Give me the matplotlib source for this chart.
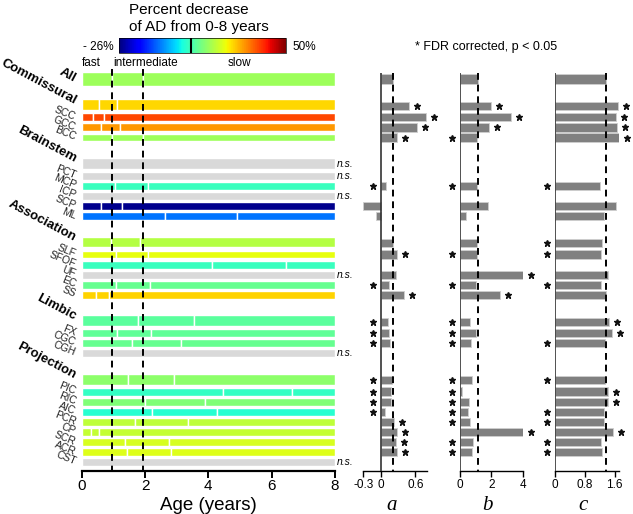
import matplotlib
matplotlib.use('Agg')
import matplotlib.pyplot as plt
from matplotlib import transforms, colors as mcolors, colorbar as mcolorbar

plt.rcParams['font.family'] = ['Liberation Sans', 'DejaVu Sans']
plt.rcParams['axes.unicode_minus'] = False

# ---------------- data ----------------
row_labels = ['All', 'Commissural', 'SCC', 'GCC', 'BCC',
              'Brainstem', 'PCT', 'MCP', 'ICP', 'SCP', 'ML',
              'Association', 'SLF', 'SFOF', 'UF', 'EC', 'SS',
              'Limbic', 'FX', 'CGC', 'CGH',
              'Projection', 'PIC', 'RIC', 'AIC', 'PCR', 'CP', 'SCR', 'ACR', 'CST']
is_group = [True, True, False, False, False,
            True, False, False, False, False, False,
            True, False, False, False, False, False,
            True, False, False, False,
            True, False, False, False, False, False, False, False, False]
# percent decrease of AD from 0-8 years (None = n.s., drawn gray)
pct_decrease = [15, 25.7, 37.4, 30.8, 15,
                None, None, 5.9, None, -25, -7.8,
                17.3, 21.9, 6.0, None, 10.1, 26,
                8.9, 9.5, 10, None,
                13.5, 5.2, 12.4, 4.0, 18, 18.8, 20.4, 21, None]
# phase breakpoints (years): fast | intermediate | slow
break_1 = [0.95, 0.56, 0.35, 0.60, 0.97,
           None, None, 1.05, None, 0.61, 2.63,
           0.92, 1.07, 4.10, None, 1.08, 0.44,
           1.79, 1.10, 1.59, None,
           1.45, 4.45, 2.00, 2.23, 1.68, 0.28, 1.37, 1.42, None]
break_2 = [1.95, 1.10, 0.72, 1.21, 1.93,
           None, None, 2.08, None, 1.26, 4.89,
           1.84, 2.08, 6.44, None, 2.16, 0.86,
           3.56, 2.20, 3.13, None,
           2.92, 6.65, 3.89, 4.28, 3.35, 0.56, 2.76, 2.82, None]
param_a = [0.22, 0.49, 0.79, 0.63, 0.29,
           None, None, 0.09, None, -0.30, -0.08,
           0.22, 0.28, None, 0.26, 0.15, 0.40,
           0.13, 0.15, 0.16, None,
           0.20, 0.17, 0.18, 0.08, 0.23, 0.29, 0.26, 0.29, None]
param_b = [1.13, 1.98, 3.23, 1.87, 1.06,
           None, None, 1.06, None, 1.81, 0.38,
           1.10, 1.06, None, 4.04, 1.02, 2.57,
           0.62, 1.00, 0.70, None,
           0.77, 0.13, 0.55, 0.51, 0.66, 4.04, 0.81, 0.79, None]
param_c = [1.36, 1.69, 1.65, 1.67, 1.71,
           None, None, 1.20, None, 1.63, 1.31,
           1.26, 1.24, None, 1.41, 1.23, 1.38,
           1.45, 1.52, 1.34, None,
           1.34, 1.41, 1.41, 1.31, 1.31, 1.56, 1.23, 1.26, None]
sig_a = [False, True, True, True, True,
         False, False, True, False, False, False,
         False, True, False, False, True, True,
         True, True, True, False,
         True, True, True, True, True, True, True, True, False]
sig_b = [False, True, True, True, True,
         False, False, True, False, False, False,
         False, True, False, True, True, True,
         True, True, True, False,
         True, True, True, True, True, True, True, True, False]
sig_c = [False, True, True, True, True,
         False, False, True, False, False, False,
         True, True, False, False, True, False,
         True, True, True, False,
         True, True, True, True, True, True, True, True, False]

age_max = 8
age_ticks = [0, 2, 4, 6, 8]
cbar_min, cbar_max = -26, 50
cbar_mark = 6.5
phase_labels = ['fast', 'intermediate', 'slow']
a_lim, a_ticks, a_ticklabels = (-0.3, 0.8), [-0.3, 0, 0.6], ['-0.3', '0', '0.6']
b_lim, b_ticks, b_ticklabels = (0, 4.05), [0, 2, 4], ['0', '2', '4']
c_lim, c_ticks, c_ticklabels = (0, 1.72), [0, 0.8, 1.6], ['0', '0.8', '1.6']

# ---------------- layout ----------------
W, H = 633, 514
fig = plt.figure(figsize=(W / 100, H / 100), dpi=100)


def px_axes(x0, x1, y0, y1):
    return fig.add_axes([x0 / W, 1 - y1 / H, (x1 - x0) / W, (y1 - y0) / H])


ypos = []
y = 0.0
for i, g in enumerate(is_group):
    if i == 0:
        y = 0.0
    elif g:
        y += 2.67
    elif is_group[i - 1]:
        y += 1.12
    else:
        y += 1.0
    ypos.append(y)

ylim = (38.81, -1.39)
cmap = plt.get_cmap('jet')
norm = mcolors.Normalize(cbar_min, cbar_max)

# ---------------- left panel ----------------
ax = px_axes(81.7, 335, 65, 471)
for i, lab in enumerate(row_labels):
    pct = pct_decrease[i]
    col = cmap(norm(pct)) if pct is not None else '#d9d9d9'
    if i == 0:
        h, yc = 1.39, ypos[i]
    elif is_group[i]:
        h, yc = 1.07, ypos[i] - 0.11
    else:
        h, yc = 0.78, ypos[i]
    if break_1[i] is not None:
        lefts = [0, break_1[i], break_2[i]]
        widths = [break_1[i], break_2[i] - break_1[i], age_max - break_2[i]]
    else:
        lefts, widths = [0], [age_max]
    ax.barh([yc] * len(lefts), widths, left=lefts, height=h, color=col,
            edgecolor='white', linewidth=1.0, zorder=2)
    if pct is None:
        ax.text(age_max + 0.06, ypos[i], 'n.s.', style='italic', fontsize=7.5,
                ha='left', va='center')
    if i == 0:
        ax.text(-0.2, ypos[i], lab, rotation=-28, rotation_mode='anchor',
                ha='right', va='center', fontsize=9.5, fontweight='bold')
    elif is_group[i]:
        ax.text(-0.2, ypos[i] - 0.45, lab, rotation=-28, rotation_mode='anchor',
                ha='right', va='center', fontsize=9.5, fontweight='bold')
    else:
        ax.text(-0.2, ypos[i], lab, rotation=-22, rotation_mode='anchor',
                ha='right', va='center', fontsize=7.5, color='#222222')

for xb in (break_1[0], break_2[0]):
    ax.vlines(xb, -1.0, ylim[0], colors='black', linestyles=(0, (3.5, 2.5)),
              linewidth=1.4, zorder=3)

ytext = (63 - 79) / 10.1
ax.text(0.02, ytext, phase_labels[0], ha='left', va='center', fontsize=8.5)
ax.text(break_1[0] + 0.05, ytext, phase_labels[1], ha='left', va='center', fontsize=8.5)
ax.text((break_2[0] + age_max) / 2, ytext, phase_labels[2], ha='center', va='center', fontsize=8.5)

ax.set_xlim(0, age_max)
ax.set_ylim(*ylim)
ax.set_yticks([])
ax.set_xticks(age_ticks)
ax.tick_params(axis='x', labelsize=11, length=5, width=1.4, pad=1)
for s in ('top', 'right', 'left'):
    ax.spines[s].set_visible(False)
ax.spines['bottom'].set_linewidth(1.6)
ax.text(0.5, (471 - 505) / 406, 'Age (years)', transform=ax.transAxes,
        ha='center', va='center', fontsize=13.5)

# ---------------- right panels ----------------
panel_specs = [
    ('a', param_a, sig_a, a_lim, a_ticks, a_ticklabels, 363.3, 427.0),
    ('b', param_b, sig_b, b_lim, b_ticks, b_ticklabels, 460.0, 523.4),
    ('c', param_c, sig_c, c_lim, c_ticks, c_ticklabels, 555.3, 619.0),
]
for name, vals, sigs, lim, ticks, tlabels, x0, x1 in panel_specs:
    axp = px_axes(x0, x1, 65, 471)
    yy = [ypos[i] for i, v in enumerate(vals) if v is not None]
    vv = [v for v in vals if v is not None]
    hh = [0.9 if i == 0 else 0.82 for i, v in enumerate(vals) if v is not None]
    axp.barh(yy, vv, height=hh, color='#808080', edgecolor='#cfcfcf',
             linewidth=0.6, zorder=2)
    axp.vlines(0, -0.55, ylim[0], colors='#333333', linewidth=1.2, zorder=3)
    axp.vlines(vals[0], -0.55, ylim[0], colors='black', linestyles=(0, (3.5, 2.5)),
               linewidth=1.4, zorder=3)
    right_tr = transforms.offset_copy(axp.transData, fig=fig, x=8, y=0, units='dots')
    left_tr = transforms.offset_copy(axp.transData, fig=fig, x=-8, y=0, units='dots')
    for i, v in enumerate(vals):
        if v is None or not sigs[i]:
            continue
        if v < vals[0]:
            axp.plot([0], [ypos[i]], marker='*', color='#111111', markersize=4.6,
                     transform=left_tr, clip_on=False, zorder=4)
        else:
            axp.plot([v], [ypos[i]], marker='*', color='#111111', markersize=4.6,
                     transform=right_tr, clip_on=False, zorder=4)
    axp.set_xlim(*lim)
    axp.set_ylim(*ylim)
    axp.set_yticks([])
    axp.set_xticks(ticks)
    axp.set_xticklabels(tlabels)
    axp.tick_params(axis='x', labelsize=8.5, length=4, width=1, pad=2)
    for s in ('top', 'right', 'left'):
        axp.spines[s].set_visible(False)
    axp.spines['bottom'].set_linewidth(1.0)
    fig.text(((x0 + x1) / 2 - 4) / W, 1 - 505 / H, name, family='Liberation Serif',
             style='italic', fontsize=15, ha='center', va='center')

# ---------------- colorbar & header ----------------
cax = px_axes(119.3, 286, 38, 53)
cb = mcolorbar.ColorbarBase(cax, cmap=cmap, norm=norm, orientation='horizontal')
cb.set_ticks([])
cb.outline.set_linewidth(0.5)
cax.axvline(cbar_mark, color='black', linewidth=1.5)

fig.text(129 / W, 1 - 14 / H, 'Percent decrease', ha='left', va='baseline', fontsize=11)
fig.text(129 / W, 1 - 31 / H, 'of AD from 0-8 years', ha='left', va='baseline', fontsize=11)
fig.text(114 / W, 1 - 47 / H, '- 26%', ha='right', va='center', fontsize=8.5)
fig.text(292 / W, 1 - 47 / H, '50%', ha='left', va='center', fontsize=8.5)
fig.text(415 / W, 1 - 47 / H, '* FDR corrected, p < 0.05', ha='left', va='center', fontsize=9)

fig.savefig('out.png', dpi=100)
